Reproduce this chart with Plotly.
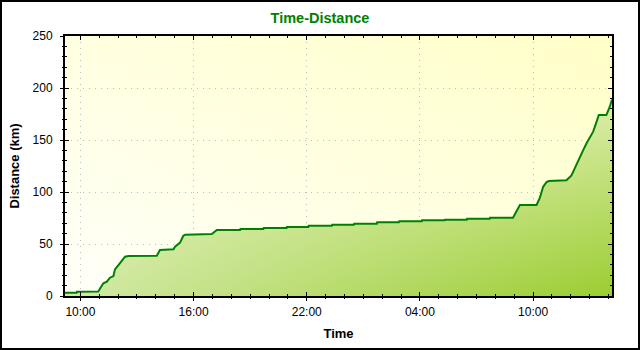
import base64
import plotly.graph_objects as go

# ---- data ----
times = [
    "2010-06-05 09:11", "2010-06-05 09:48", "2010-06-05 09:49", "2010-06-05 10:57",
    "2010-06-05 11:03", "2010-06-05 11:13", "2010-06-05 11:24", "2010-06-05 11:34",
    "2010-06-05 11:45", "2010-06-05 11:50", "2010-06-05 12:01", "2010-06-05 12:12",
    "2010-06-05 12:22", "2010-06-05 12:33", "2010-06-05 14:03", "2010-06-05 14:13",
    "2010-06-05 14:56", "2010-06-05 15:01", "2010-06-05 15:17", "2010-06-05 15:27",
    "2010-06-05 15:33", "2010-06-05 16:58", "2010-06-05 17:14", "2010-06-05 18:28",
    "2010-06-05 18:29", "2010-06-05 19:42", "2010-06-05 19:43", "2010-06-05 20:56",
    "2010-06-05 20:57", "2010-06-05 22:05", "2010-06-05 22:06", "2010-06-05 23:20",
    "2010-06-05 23:21", "2010-06-06 00:30", "2010-06-06 00:31", "2010-06-06 01:43",
    "2010-06-06 01:44", "2010-06-06 02:53", "2010-06-06 02:54", "2010-06-06 04:06",
    "2010-06-06 04:07", "2010-06-06 05:19", "2010-06-06 05:20", "2010-06-06 06:29",
    "2010-06-06 06:30", "2010-06-06 07:42", "2010-06-06 07:43", "2010-06-06 08:56",
    "2010-06-06 09:18", "2010-06-06 10:11", "2010-06-06 10:21", "2010-06-06 10:32",
    "2010-06-06 10:43", "2010-06-06 10:50", "2010-06-06 11:46", "2010-06-06 12:02",
    "2010-06-06 12:12", "2010-06-06 12:23", "2010-06-06 12:39", "2010-06-06 12:50",
    "2010-06-06 13:11", "2010-06-06 13:22", "2010-06-06 13:29", "2010-06-06 13:53",
    "2010-06-06 14:04", "2010-06-06 14:11",
]
distance_km = [
    3.2, 3.2, 4.2, 4.4,
    7.4, 12.2, 13.8, 17.6,
    19.2, 25.6, 29.8, 34.6,
    37.8, 38.5, 38.7, 44.2,
    44.9, 47.4, 51.3, 57.7,
    59.0, 59.6, 63.5, 63.5,
    64.4, 64.4, 65.4, 65.4,
    66.4, 66.4, 67.6, 67.6,
    68.6, 68.6, 69.5, 69.5,
    70.9, 70.9, 71.8, 71.8,
    72.8, 72.8, 73.4, 73.4,
    74.2, 74.2, 75.3, 75.3,
    87.5, 87.5, 94.0, 105.0,
    109.6, 110.6, 111.3, 116.0,
    122.7, 130.8, 140.0, 146.8,
    158.0, 167.6, 174.0, 174.0,
    182.0, 189.0,
]
x_range = ["2010-06-05 09:11", "2010-06-06 14:11"]
y_range = [0, 250]
x_tick0 = "2010-06-05 10:00"
HOUR_MS = 3600000

# ---- geometry ----
W, H = 640, 350
ML, MR, MT, MB = 65, 28, 36, 54
PW, PH = W - ML - MR, H - MT - MB

# background gradient (pale yellow) as an SVG image
svg = (
    '<svg xmlns="http://www.w3.org/2000/svg" width="100" height="100" '
    'viewBox="0 0 100 100" preserveAspectRatio="none">'
    '<defs><linearGradient id="g" x1="0" y1="1" x2="1" y2="0">'
    '<stop offset="0" stop-color="#fffffa"/>'
    '<stop offset="1" stop-color="#ffffc8"/>'
    '</linearGradient></defs>'
    '<rect width="100" height="100" fill="url(#g)"/></svg>'
)
bg_src = "data:image/svg+xml;base64," + base64.b64encode(svg.encode()).decode()

fig = go.Figure()

# green area: horizontal gradient base (primary axes)
fig.add_trace(go.Scatter(
    x=times, y=distance_km, mode="none", fill="tozeroy",
    fillgradient=dict(type="horizontal",
                      colorscale=[[0, "rgb(210,233,165)"], [1, "rgb(155,205,50)"]]),
    hoverinfo="skip", showlegend=False,
))
# lightening overlay toward the top + the line (overlay axes, same ranges)
fig.add_trace(go.Scatter(
    x=times, y=distance_km, mode="lines", fill="tozeroy",
    xaxis="x2", yaxis="y2",
    line=dict(color="#008000", width=2),
    fillgradient=dict(type="vertical", start=0, stop=250,
                      colorscale=[[0, "rgba(250,252,225,0)"], [1, "rgba(250,252,225,0.9)"]]),
    showlegend=False,
))

tickfont = dict(family="Liberation Sans, Arial, sans-serif", size=12, color="black")
titlefont = dict(family="Liberation Sans, Arial, sans-serif", size=13, color="black", weight="bold")
grid = dict(showgrid=True, gridcolor="#bcbcbc", griddash="1px,5px", gridwidth=1)

fig.update_layout(
    width=W, height=H,
    margin=dict(l=ML, r=MR, t=MT, b=MB, pad=0),
    paper_bgcolor="white",
    plot_bgcolor="rgba(0,0,0,0)",
    title=dict(text="Time-Distance", x=0.5, xref="container", xanchor="center",
               y=1 - 18 / H, yref="container", yanchor="middle",
               font=dict(family="Liberation Sans, Arial, sans-serif", size=14.5,
                         color="#008000", weight="bold")),
    images=[dict(source=bg_src, xref="paper", yref="paper", x=0, y=1, sizex=1, sizey=1,
                 xanchor="left", yanchor="top", sizing="stretch", layer="below")],
    xaxis=dict(
        type="date", range=x_range, tick0=x_tick0, dtick=6 * HOUR_MS,
        ticks="inside", ticklen=4, tickcolor="black", tickwidth=1,
        showline=True, linecolor="black", linewidth=2, mirror="ticks",
        showticklabels=False, zeroline=False,
        minor=dict(dtick=HOUR_MS, tick0=x_tick0, ticks="inside", ticklen=2,
                   tickcolor="black", showgrid=False),
        **grid,
    ),
    xaxis2=dict(
        type="date", range=x_range, tick0=x_tick0, dtick=6 * HOUR_MS,
        overlaying="x", side="bottom", anchor="y2",
        ticks="outside", ticklen=4, tickcolor="black", tickwidth=1,
        showline=False, showgrid=False, zeroline=False,
        tickformat="%H:%M", tickfont=tickfont, ticklabelstandoff=1,
        minor=dict(dtick=HOUR_MS, tick0=x_tick0, ticks="outside", ticklen=2,
                   tickcolor="black", showgrid=False),
        title=dict(text="Time", font=titlefont, standoff=10),
    ),
    yaxis=dict(
        range=y_range, dtick=50,
        ticks="inside", ticklen=4, tickcolor="black", tickwidth=1,
        showline=True, linecolor="black", linewidth=2, mirror="ticks",
        showticklabels=False, zeroline=False,
        minor=dict(dtick=10, ticks="inside", ticklen=2, tickcolor="black", showgrid=False),
        **grid,
    ),
    yaxis2=dict(
        range=y_range, dtick=50, overlaying="y", side="left", anchor="x2",
        ticks="outside", ticklen=4, tickcolor="black", tickwidth=1,
        showline=False, showgrid=False, zeroline=False,
        tickfont=tickfont, ticklabelstandoff=5,
        minor=dict(dtick=10, ticks="outside", ticklen=2, tickcolor="black", showgrid=False),
        title=dict(text="Distance (km)", font=titlefont, standoff=10),
    ),
    shapes=[dict(type="rect", xref="paper", yref="paper",
                 x0=(1 - ML) / PW, x1=(W - 1 - ML) / PW,
                 y0=-(MB - 1) / PH, y1=1 + (MT - 1) / PH,
                 line=dict(color="black", width=2), fillcolor="rgba(0,0,0,0)",
                 layer="above")],
)

fig.write_html("out.html", config={"displayModeBar": False},
               post_script="document.body.style.margin='0';")
